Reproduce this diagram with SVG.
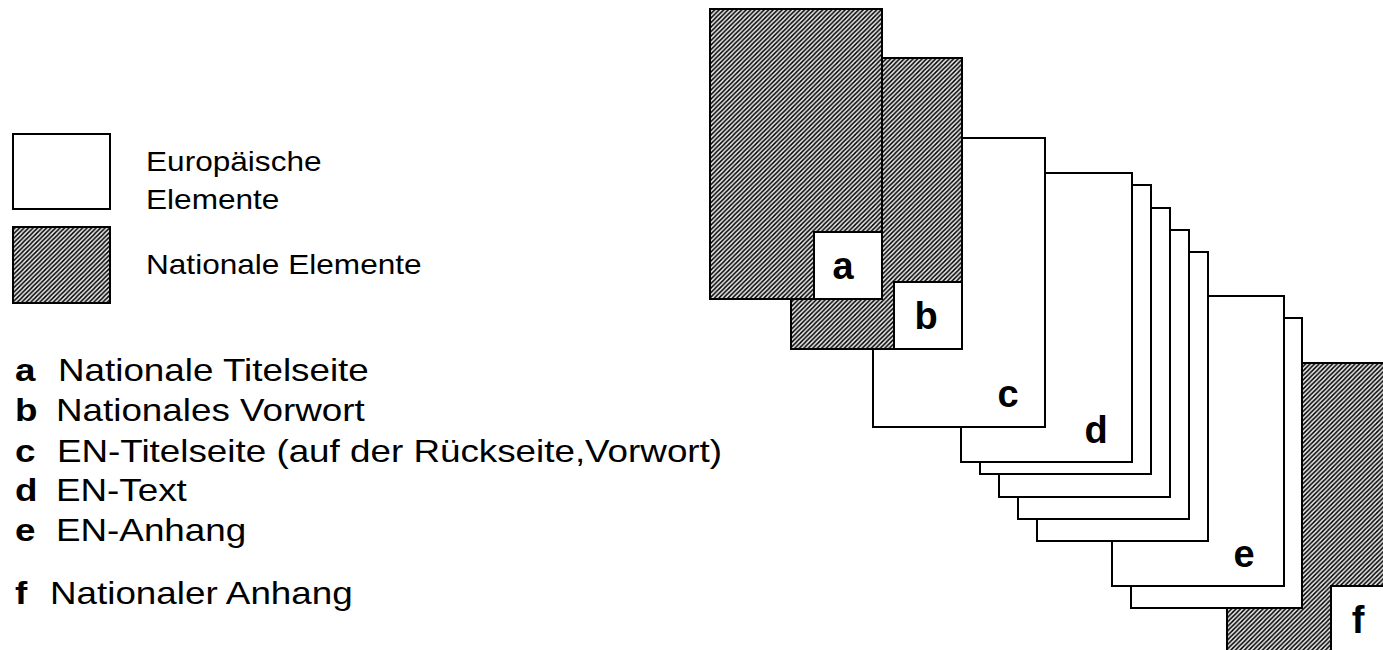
<svg xmlns="http://www.w3.org/2000/svg" width="1383" height="650" viewBox="0 0 1383 650">
<defs>
<pattern id="hatch" patternUnits="userSpaceOnUse" width="4.5" height="4.5">
<rect width="4.5" height="4.5" fill="#ececec"/>
<path d="M-1,5.5 L5.5,-1 M-1,1 L1,-1 M3.5,5.5 L5.5,3.5" stroke="#000" stroke-width="1.5"/>
</pattern>
</defs>
<style>
.pg{fill:#fff;stroke:#000;stroke-width:2}
.nat{fill:url(#hatch);stroke:#000;stroke-width:2}
.box{fill:#fff;stroke:#000;stroke-width:2}
.lbl{font-family:"Liberation Sans",Arial,sans-serif;font-weight:bold;font-size:38px;fill:#000;text-anchor:middle}
.leg{font-family:"Liberation Sans",Arial,sans-serif;font-size:27px;fill:#000}
.li{font-family:"Liberation Sans",Arial,sans-serif;font-size:32px;fill:#000}
.lb{font-weight:bold}
</style>
<g id="legend">
<rect class="pg" x="13" y="134" width="97" height="75"/>
<text class="leg" transform="matrix(1.17 0 0 1 146 171)">Europäische</text>
<text class="leg" transform="matrix(1.17 0 0 1 146 209)">Elemente</text>
<rect class="nat" x="13" y="227" width="97" height="76"/>
<text class="leg" transform="matrix(1.17 0 0 1 146 274)">Nationale Elemente</text>
</g>
<g id="list">
<text class="li lb" transform="matrix(1.15 0 0 1 15 381)">a</text>
<text class="li" transform="matrix(1.15 0 0 1 58 381)">Nationale Titelseite</text>
<text class="li lb" transform="matrix(1.15 0 0 1 15 421)">b</text>
<text class="li" transform="matrix(1.15 0 0 1 56 421)">Nationales Vorwort</text>
<text class="li lb" transform="matrix(1.15 0 0 1 15 462)">c</text>
<text class="li" transform="matrix(1.15 0 0 1 57 462)">EN-Titelseite (auf der Rückseite,Vorwort)</text>
<text class="li lb" transform="matrix(1.15 0 0 1 15 501)">d</text>
<text class="li" transform="matrix(1.15 0 0 1 56 501)">EN-Text</text>
<text class="li lb" transform="matrix(1.15 0 0 1 15 541)">e</text>
<text class="li" transform="matrix(1.15 0 0 1 56 541)">EN-Anhang</text>
<text class="li lb" transform="matrix(1.15 0 0 1 15 604)">f</text>
<text class="li" transform="matrix(1.15 0 0 1 50 604)">Nationaler Anhang</text>
</g>
<g id="page-f">
<rect class="nat" x="1227" y="363" width="172" height="290"/>
<rect class="box" x="1331" y="586" width="68" height="67"/>
<text class="lbl" x="1358" y="633">f</text>
</g>
<g id="page-e2"><rect class="pg" x="1131" y="318" width="171" height="290"/></g>
<g id="page-e">
<rect class="pg" x="1112" y="296" width="172" height="290"/>
<text class="lbl" x="1244" y="567">e</text>
</g>
<g id="page-d4"><rect class="pg" x="1037" y="252" width="171" height="289"/></g>
<g id="page-d3"><rect class="pg" x="1018" y="230" width="171" height="289"/></g>
<g id="page-d2"><rect class="pg" x="999" y="208" width="171" height="289"/></g>
<g id="page-d1"><rect class="pg" x="980" y="185" width="171" height="289"/></g>
<g id="page-d">
<rect class="pg" x="961" y="173" width="171" height="289"/>
<text class="lbl" x="1096" y="443">d</text>
</g>
<g id="page-c">
<rect class="pg" x="873" y="138" width="172" height="289"/>
<text class="lbl" x="1008" y="407">c</text>
</g>
<g id="page-b">
<rect class="nat" x="791" y="58" width="171" height="291"/>
<rect class="box" x="894" y="282" width="68" height="67"/>
<text class="lbl" x="926" y="329">b</text>
</g>
<g id="page-a">
<rect class="nat" x="710" y="9" width="172" height="290"/>
<rect class="box" x="814" y="232" width="68" height="67"/>
<text class="lbl" x="843" y="279">a</text>
</g>
<g id="connectors"/>
</svg>
